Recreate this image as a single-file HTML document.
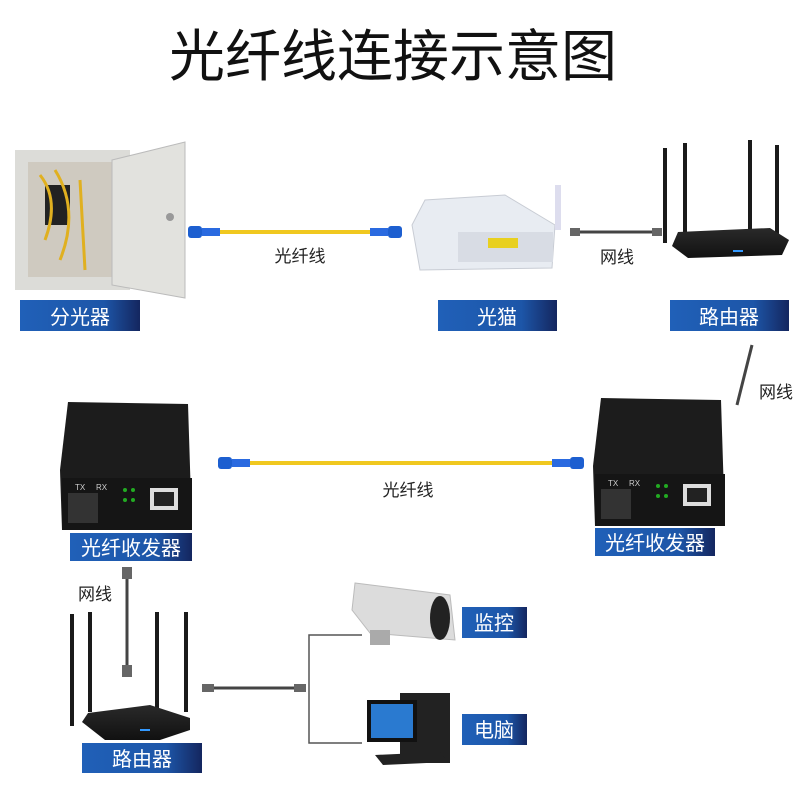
<!DOCTYPE html>
<html><head><meta charset="utf-8">
<style>
html,body{margin:0;padding:0;background:#fff;width:800px;height:800px;overflow:hidden}
svg{display:block}
text{font-family:"Liberation Sans","Noto Sans CJK SC",sans-serif}
</style></head><body>
<svg width="800" height="800" viewBox="0 0 800 800" xmlns="http://www.w3.org/2000/svg">
<defs>
<linearGradient id="lb" x1="0" x2="1" y1="0" y2="0">
<stop offset="0" stop-color="#2060b8"/><stop offset="0.7" stop-color="#1d56a8"/><stop offset="1" stop-color="#14265f"/>
</linearGradient>
<linearGradient id="blk" x1="0" x2="0" y1="0" y2="1"><stop offset="0" stop-color="#2a2a2a"/><stop offset="1" stop-color="#111"/></linearGradient>
<g id="conn"><rect x="0" y="-6" width="14" height="12" rx="3" fill="#1d5fd0"/><rect x="14" y="-4" width="18" height="8" fill="#2a6ae0"/></g>
</defs>
<text x="393" y="76" font-size="56" text-anchor="middle" fill="#111">光纤线连接示意图</text>

<!-- cabinet -->
<rect x="15" y="150" width="115" height="140" fill="#dcdcd8"/>
<rect x="28" y="162" width="90" height="115" fill="#cfcac0"/>
<rect x="45" y="185" width="25" height="40" fill="#222"/>
<path d="M40 175 Q60 200 45 240 M55 170 Q80 210 60 260 M80 180 L85 270" stroke="#e0b020" stroke-width="3" fill="none"/>
<polygon points="112,160 185,142 185,298 112,285" fill="#e2e2de" stroke="#bbb"/>
<circle cx="170" cy="217" r="4" fill="#999"/>

<!-- fiber top -->
<line x1="200" y1="232" x2="390" y2="232" stroke="#f0c820" stroke-width="4"/>
<use href="#conn" x="188" y="232"/>
<use href="#conn" transform="translate(402,232) scale(-1,1)"/>
<text x="300" y="262" font-size="17" text-anchor="middle" fill="#222">光纤线</text>

<!-- ONU -->
<polygon points="412,225 425,200 505,195 555,225 552,268 420,270" fill="#e8ecf2" stroke="#c8ccd4"/>
<rect x="458" y="232" width="95" height="30" fill="#d8dce4"/>
<rect x="488" y="238" width="30" height="10" fill="#e8d020"/>
<rect x="555" y="185" width="6" height="45" fill="#dde" />

<!-- lan cable top -->
<line x1="572" y1="232" x2="660" y2="232" stroke="#444" stroke-width="3"/>
<rect x="570" y="228" width="10" height="8" fill="#666"/><rect x="652" y="228" width="10" height="8" fill="#666"/>
<text x="617" y="263" font-size="17" text-anchor="middle" fill="#222">网线</text>

<!-- router top -->
<g fill="#1a1a1a">
<rect x="663" y="148" width="4" height="95"/><rect x="683" y="143" width="4" height="95"/><rect x="748" y="140" width="4" height="95"/><rect x="775" y="145" width="4" height="95"/>
</g>
<polygon points="678,232 770,228 789,240 782,255 688,258 672,246" fill="url(#blk)"/>
<rect x="733" y="250" width="10" height="2" fill="#39f"/>

<!-- labels row 1 -->
<rect x="20" y="300" width="120" height="31" fill="url(#lb)"/><text x="80" y="324" font-size="20" fill="#fff" text-anchor="middle">分光器</text>
<rect x="438" y="300" width="119" height="31" fill="url(#lb)"/><text x="497" y="324" font-size="20" fill="#fff" text-anchor="middle">光猫</text>
<rect x="670" y="300" width="119" height="31" fill="url(#lb)"/><text x="729" y="324" font-size="20" fill="#fff" text-anchor="middle">路由器</text>

<!-- right lan cable -->
<line x1="752" y1="345" x2="737" y2="405" stroke="#444" stroke-width="3"/>
<text x="776" y="398" font-size="17" text-anchor="middle" fill="#222">网线</text>

<!-- media converters -->
<g>
<polygon points="68,402 188,404 192,530 62,530 60,470" fill="#1c1c1c"/>
<rect x="62" y="478" width="130" height="52" fill="#151515"/>
<rect x="68" y="493" width="30" height="30" fill="#333"/>
<rect x="150" y="488" width="28" height="22" fill="#ddd"/><rect x="154" y="492" width="20" height="14" fill="#222"/>
<text x="75" y="490" font-size="8" fill="#ccc">TX</text><text x="96" y="490" font-size="8" fill="#ccc">RX</text>
<circle cx="125" cy="490" r="2" fill="#2a2"/><circle cx="133" cy="490" r="2" fill="#2a2"/><circle cx="125" cy="500" r="2" fill="#2a2"/><circle cx="133" cy="500" r="2" fill="#2a2"/>
</g>
<g transform="translate(533,-4)">
<polygon points="68,402 188,404 192,530 62,530 60,470" fill="#1c1c1c"/>
<rect x="62" y="478" width="130" height="52" fill="#151515"/>
<rect x="68" y="493" width="30" height="30" fill="#333"/>
<rect x="150" y="488" width="28" height="22" fill="#ddd"/><rect x="154" y="492" width="20" height="14" fill="#222"/>
<text x="75" y="490" font-size="8" fill="#ccc">TX</text><text x="96" y="490" font-size="8" fill="#ccc">RX</text>
<circle cx="125" cy="490" r="2" fill="#2a2"/><circle cx="133" cy="490" r="2" fill="#2a2"/><circle cx="125" cy="500" r="2" fill="#2a2"/><circle cx="133" cy="500" r="2" fill="#2a2"/>
</g>

<!-- fiber middle -->
<line x1="245" y1="463" x2="555" y2="463" stroke="#f0c820" stroke-width="4"/>
<use href="#conn" x="218" y="463"/>
<use href="#conn" transform="translate(584,463) scale(-1,1)"/>
<text x="408" y="496" font-size="17" text-anchor="middle" fill="#222">光纤线</text>

<rect x="70" y="533" width="122" height="28" fill="url(#lb)"/><text x="131" y="555" font-size="20" fill="#fff" text-anchor="middle">光纤收发器</text>
<rect x="595" y="528" width="120" height="28" fill="url(#lb)"/><text x="655" y="550" font-size="20" fill="#fff" text-anchor="middle">光纤收发器</text>

<!-- bottom left lan cable + router -->
<line x1="127" y1="567" x2="127" y2="677" stroke="#444" stroke-width="3"/>
<rect x="122" y="567" width="10" height="12" fill="#666"/><rect x="122" y="665" width="10" height="12" fill="#666"/>
<text x="95" y="600" font-size="17" text-anchor="middle" fill="#222">网线</text>
<g fill="#1a1a1a">
<rect x="70" y="614" width="4" height="112"/><rect x="88" y="612" width="4" height="100"/><rect x="155" y="612" width="4" height="100"/><rect x="184" y="612" width="4" height="100"/>
</g>
<polygon points="88,713 150,705 190,718 190,730 160,740 105,740 82,722" fill="url(#blk)"/>
<rect x="140" y="729" width="10" height="2" fill="#39f"/>
<rect x="82" y="743" width="120" height="30" fill="url(#lb)"/><text x="142" y="766" font-size="20" fill="#fff" text-anchor="middle">路由器</text>

<!-- lan to bracket -->
<line x1="205" y1="688" x2="305" y2="688" stroke="#444" stroke-width="3"/>
<rect x="202" y="684" width="12" height="8" fill="#666"/><rect x="294" y="684" width="12" height="8" fill="#666"/>
<path d="M362 635 H309 V743 H362" stroke="#555" stroke-width="1.5" fill="none"/>

<!-- camera -->
<polygon points="355,583 450,595 455,640 370,633 352,610" fill="#dcdcdc" stroke="#bbb"/>
<ellipse cx="440" cy="618" rx="10" ry="22" fill="#222"/>
<rect x="370" y="630" width="20" height="15" fill="#aaa"/>
<!-- computer -->
<rect x="400" y="693" width="50" height="70" fill="#222"/>
<rect x="367" y="700" width="50" height="42" fill="#111"/><rect x="371" y="704" width="42" height="34" fill="#2a7ad0"/>
<polygon points="375,755 440,752 448,762 383,765" fill="#222"/>

<rect x="462" y="607" width="65" height="31" fill="url(#lb)"/><text x="494" y="630" font-size="20" fill="#fff" text-anchor="middle">监控</text>
<rect x="462" y="714" width="65" height="31" fill="url(#lb)"/><text x="494" y="737" font-size="20" fill="#fff" text-anchor="middle">电脑</text>
</svg>
</body></html>
